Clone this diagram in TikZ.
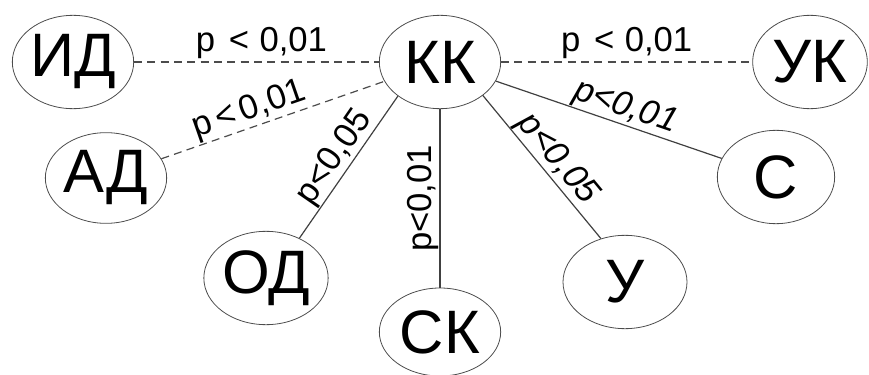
\documentclass[tikz,border=0pt]{standalone}
\usepackage{fontspec}
\setmainfont{Liberation Sans}
\usetikzlibrary{shapes.geometric}

\begin{document}
\begin{tikzpicture}[x=0.75pt, y=-0.75pt]
            % Set primary nodes
            \tikzset{
                factorNode/.style={
                        draw=black!70,
                        ellipse,
                        line width=0.6pt,
                        inner sep=0pt,
                        minimum width=91pt,
                        minimum height=70pt,
                        font=\fontsize{46}{48}\selectfont
                    }
            }
            \tikzset{
                pLabel/.style={
                        inner sep=0.5pt,
                        font=\fontsize{26}{28}\selectfont
                    }
            }
            % Configure links
            \tikzset{weakLink/.style={line width=0.9pt, draw=black!70, dashed, dash pattern=on 6pt off 4pt}}
            \tikzset{strongLink/.style={line width=0.9pt, draw=black!75}}
            \useasboundingbox (0,0) rectangle (869,375);
            % Placing nodes
            \node[factorNode] (kk) at (440,62) {КК};
            \node[factorNode] (id) at (73,62) {ИД};
            \node[factorNode, minimum width=86pt] (uk) at (810,62) {УК};
            \node[factorNode, minimum height=68pt] (ad) at (106,178) {АД};
            \node[factorNode, minimum width=88pt] (s) at (776,177) {С};
            \node[factorNode] (od) at (266,278) {ОД};
            \node[factorNode, minimum height=66pt] (sk) at (440,332) {СК};
            \node[factorNode, minimum width=93pt] (u) at (625,282) {У};
            % Draw links
            \draw[weakLink] (id) -- (kk) node[pLabel, pos=0.52, above=1.5pt]{p\hspace{0.4em}<\hspace{0.3em}0,01};
            \draw[weakLink] (ad) -- (kk) node[pLabel, pos=0.42, sloped, above]{p\hspace{0.15em}<\hspace{0.15em}0,01};
            \draw[weakLink] (kk) -- (uk) node[pLabel, pos=0.5, above=1.5pt]{p\hspace{0.4em}<\hspace{0.3em}0,01};
            \draw[strongLink] (kk) -- (s) node[pLabel, pos=0.55, sloped, above, font=\fontsize{26}{28}\selectfont\itshape]{p<0,01};
            \draw[strongLink] (od.50) -- (kk.219) node[pLabel, pos=0.5, sloped, above]{p<0,05};
            \draw[strongLink] (sk) -- (kk) node[pLabel, pos=0.5, sloped, above]{p<0,01};
            \draw[strongLink] (kk.-38) -- (u.119) node[pLabel, pos=0.52, sloped, above, font=\fontsize{26}{28}\selectfont\itshape]{p<0,05};
        \end{tikzpicture}
\end{document}
